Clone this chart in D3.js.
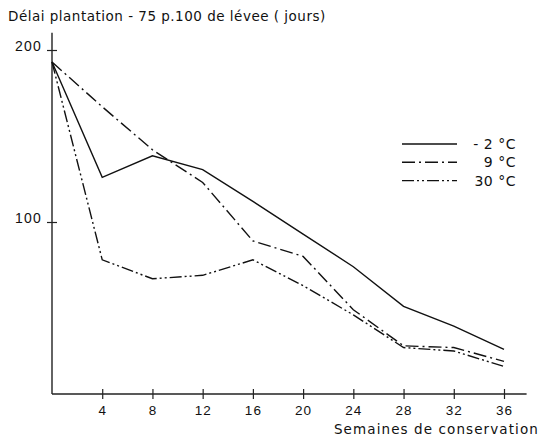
<!DOCTYPE html>
<html>
<head>
<meta charset="utf-8">
<script src="https://cdn.jsdelivr.net/npm/d3@7"></script>
<style>
  body { margin: 0; background: #fff; }
  svg { display: block; font-family: "DejaVu Sans", "Liberation Sans", sans-serif; }
</style>
</head>
<body>
<div id="chart"></div>
<script>
const weeks = [0, 4, 8, 12, 16, 20, 24, 28, 32, 36];
const minus2 = [193, 126, 138.5, 130.5, 112, 93, 74, 51, 39.5, 26];
const plus9 = [193, 167, 142, 123, 89, 80, 49, 28, 27, 19];
const plus30 = [193, 78, 67, 69, 78, 63, 46, 27, 25, 16];
const xTicks = [4, 8, 12, 16, 20, 24, 28, 32, 36];
const yTicks = [100, 200];
const seriesNames = ["- 2  °C", "9  °C", "30  °C"];

const width = 541, height = 438;
const x = d3.scaleLinear().domain([0, 36]).range([52, 504]);
const y = d3.scaleLinear().domain([0, 200]).range([394, 50]);

const svg = d3.select("#chart").append("svg")
  .attr("width", width).attr("height", height);

// X axis
const xAxis = svg.append("g")
  .attr("transform", `translate(0,${y(0)})`)
  .call(d3.axisBottom(x).tickValues(xTicks).tickSize(0).tickPadding(0));
xAxis.select(".domain").remove();
xAxis.append("line")
  .attr("x1", x(0)).attr("x2", x(37.8))
  .attr("stroke", "#222").attr("stroke-width", 1.4);
xAxis.selectAll(".tick").append("line")
  .attr("y1", -5).attr("y2", 5)
  .attr("stroke", "#222").attr("stroke-width", 1.2);
xAxis.selectAll(".tick text")
  .attr("y", 21).attr("dy", 0)
  .style("font-size", "13.5px").style("letter-spacing", "1px")
  .attr("fill", "#111");

// Y axis
const yAxis = svg.append("g")
  .attr("transform", `translate(${x(0)},0)`)
  .call(d3.axisLeft(y).tickValues(yTicks).tickSize(0).tickPadding(0));
yAxis.select(".domain").remove();
yAxis.append("line")
  .attr("y1", y(0)).attr("y2", y(210))
  .attr("stroke", "#222").attr("stroke-width", 1.4);
yAxis.selectAll(".tick").append("line")
  .attr("x1", -5).attr("x2", 5)
  .attr("stroke", "#222").attr("stroke-width", 1.2);
yAxis.selectAll(".tick text")
  .attr("x", -10).attr("dy", "0.05em")
  .style("font-size", "14px").style("letter-spacing", "1.2px")
  .attr("fill", "#111");

// Titles
svg.append("text")
  .attr("x", 8).attr("y", 21)
  .style("font-size", "13.5px").style("letter-spacing", "0.5px")
  .attr("fill", "#111")
  .text("Délai plantation - 75 p.100 de lévee ( jours)");

svg.append("text")
  .attr("x", 539).attr("y", 434)
  .attr("text-anchor", "end")
  .style("font-size", "13.5px").style("letter-spacing", "1.1px")
  .attr("fill", "#111")
  .text("Semaines de conservation");

// Lines
const dashes = [null, "13,4,2,4", "12,3,2,3,2,3"];
const series = [minus2, plus9, plus30];
const line = d3.line().x((d, i) => x(weeks[i])).y(d => y(d));

series.forEach((s, k) => {
  svg.append("path")
    .datum(s)
    .attr("fill", "none")
    .attr("stroke", "#111")
    .attr("stroke-width", 1.4)
    .attr("stroke-dasharray", dashes[k])
    .attr("d", line);
});

// Legend
const legend = svg.append("g");
seriesNames.forEach((name, k) => {
  const ly = 144 + k * 18.3;
  legend.append("line")
    .attr("x1", 402).attr("x2", 457)
    .attr("y1", ly).attr("y2", ly)
    .attr("stroke", "#111").attr("stroke-width", 1.4)
    .attr("stroke-dasharray", dashes[k]);
  legend.append("text")
    .attr("x", 516).attr("y", ly + 5)
    .attr("text-anchor", "end")
    .style("font-size", "14px").style("letter-spacing", "0.5px")
    .attr("fill", "#111")
    .text(name);
});
</script>
</body>
</html>
